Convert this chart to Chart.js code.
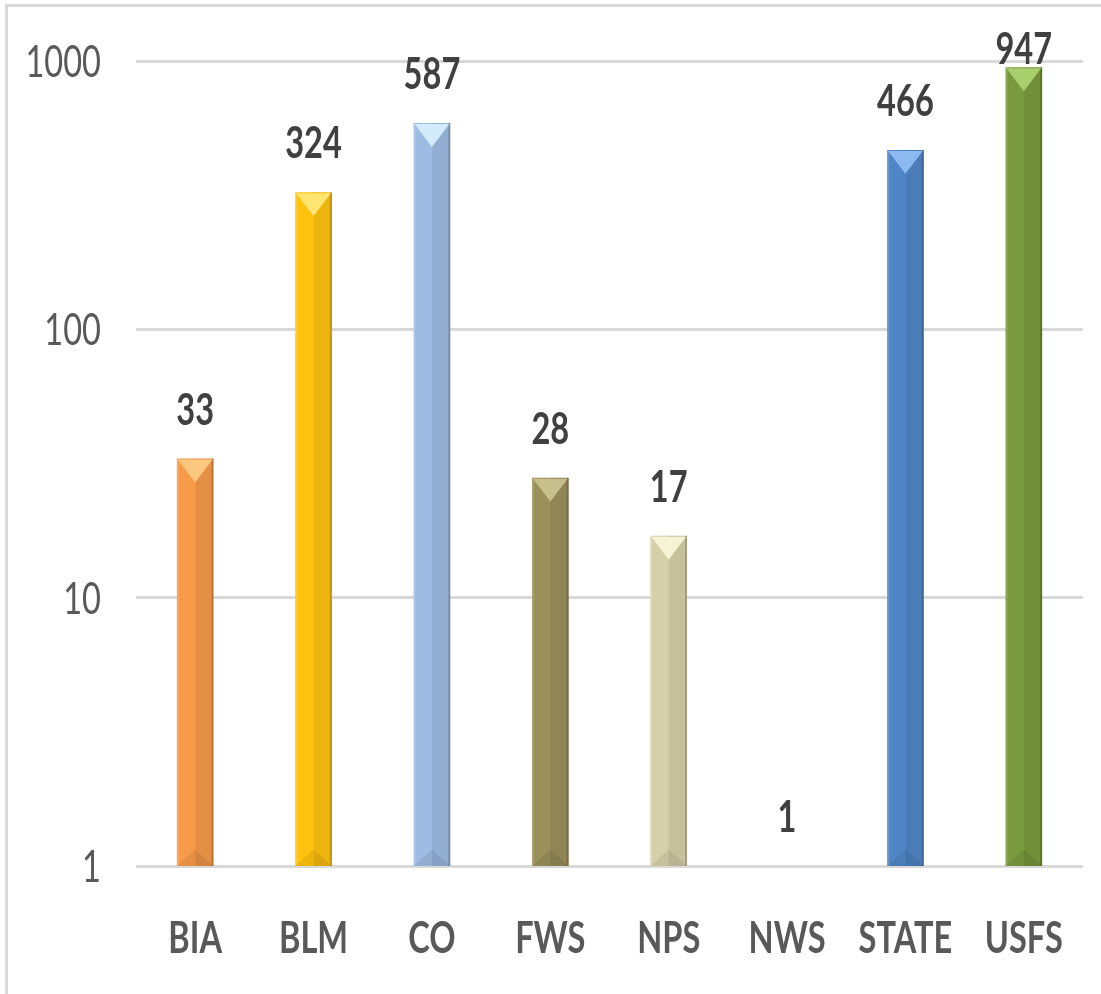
<!DOCTYPE html>
<html>
<head>
<meta charset="utf-8">
<script src="https://cdn.jsdelivr.net/npm/chart.js@4/dist/chart.umd.min.js"></script>
<style>
  html, body { margin: 0; padding: 0; background: #fff; overflow: hidden; }
  #wrap { position: relative; width: 1101px; height: 994px; }
  #frame { position: absolute; left: 5px; top: 4px; width: 1200px; height: 1100px;
           border-left: 3px solid #d9d9d9; border-top: 3px solid #d9d9d9; }
  canvas { position: absolute; left: 0; top: 0; }
</style>
</head>
<body>
<div id="wrap">
  <div id="frame"></div>
  <canvas id="chart" width="1101" height="994"></canvas>
</div>
<script>
categories = ['BIA', 'BLM', 'CO', 'FWS', 'NPS', 'NWS', 'STATE', 'USFS']
counts = [33, 324, 587, 28, 17, 1, 466, 947]
yTicks = [1, 10, 100, 1000]

barColors = ['#F79A4A', '#FFC20E', '#9DBCE3', '#9A905C', '#D6D0A8', '#C0C0C0', '#5086C6', '#7A9A3E']
topColors = ['#FCC77E', '#FFE570', '#D3ECFB', '#C8C08C', '#F6F3D4', '#E0E0E0', '#8CBAF0', '#A9CE6C']

FONT = "Lato, 'Open Sans', sans-serif"
SX = 0.74   // the reference text is narrow, squeeze it sideways

function narrowText(c, txt, x, y, font, color, align) {
    c.save()
    c.font = font
    c.fillStyle = color
    c.textAlign = align
    c.textBaseline = 'alphabetic'
    c.translate(x, y)
    c.scale(SX, 1)
    c.fillText(txt, 0, 0)
    c.restore()
}

// bevel look, value labels and narrow axis labels
bevel = {
    id: 'bevel',
    afterDatasetsDraw(chart) {
        const c = chart.ctx
        const meta = chart.getDatasetMeta(0)
        const area = chart.chartArea
        meta.data.forEach((bar, i) => {
            const w = bar.width
            const l = bar.x - w / 2, r = bar.x + w / 2
            const t = bar.y, b = bar.base
            const h = b - t
            c.save()
            if (h > 2) {
                c.fillStyle = 'rgba(0,0,0,0.07)'
                c.fillRect(bar.x, t, r - bar.x, h)
                c.fillStyle = 'rgba(0,0,0,0.18)'
                c.fillRect(r - 2, t, 2, h)
                c.fillStyle = 'rgba(255,255,255,0.15)'
                c.fillRect(l, t, 2, h)
                const d = Math.min(w * 0.65, h / 2)
                c.fillStyle = topColors[i]
                c.beginPath()
                c.moveTo(l + 1, t + 1)
                c.lineTo(r - 1, t + 1)
                c.lineTo(bar.x, t + d)
                c.closePath()
                c.fill()
                const e = Math.min(w * 0.45, h / 2)
                c.fillStyle = 'rgba(0,0,0,0.07)'
                c.beginPath()
                c.moveTo(l, b)
                c.lineTo(r, b)
                c.lineTo(bar.x, b - e)
                c.closePath()
                c.fill()
            }
            c.restore()
            const y = Math.max(t - 34, area.top + 3)
            narrowText(c, String(counts[i]), bar.x, y, 'bold 44px ' + FONT, '#404040', 'center')
        })
    },
    afterDraw(chart) {
        const c = chart.ctx
        const xs = chart.scales.x, ys = chart.scales.y
        categories.forEach((cat, i) => {
            narrowText(c, cat, xs.getPixelForTick(i), 953, 'bold 44px ' + FONT, '#595959', 'center')
        })
        yTicks.forEach(v => {
            narrowText(c, String(v), 101, ys.getPixelForValue(v) + 16, '44px ' + FONT, '#595959', 'right')
        })
    }
}

config = {
    type: 'bar',
    data: {
        labels: categories,
        datasets: [{
            data: counts,
            backgroundColor: barColors,
            borderWidth: 0,
            barPercentage: 0.31,
            categoryPercentage: 1.0
        }]
    },
    options: {
        responsive: false,
        animation: false,
        layout: { padding: { left: 8, top: 61, right: 18, bottom: 0 } },
        plugins: {
            legend: { display: false },
            tooltip: { enabled: false }
        },
        scales: {
            x: {
                grid: { display: false },
                border: { display: false },
                ticks: { display: false, autoSkip: false },
                afterFit(s) { s.height = 128 }
            },
            y: {
                type: 'logarithmic',
                min: 1,
                max: 1000,
                border: { display: false },
                grid: { color: '#d9d9d9', lineWidth: 3, drawTicks: false },
                ticks: { display: false },
                afterBuildTicks(s) { s.ticks = yTicks.map(v => ({ value: v })) },
                afterFit(s) { s.width = 128 }
            }
        }
    },
    plugins: [bevel]
}

new Chart(document.getElementById('chart'), config)
</script>
</body>
</html>
